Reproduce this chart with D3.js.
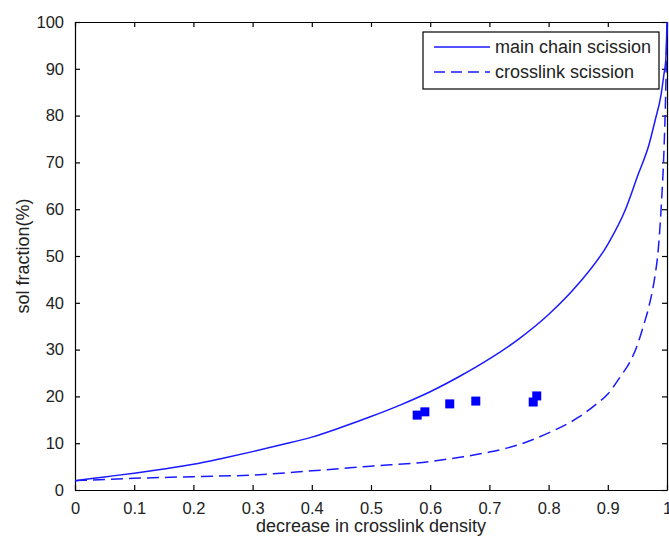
<!DOCTYPE html>
<html>
<head>
<meta charset="utf-8">
<script src="https://cdn.jsdelivr.net/npm/d3@7"></script>
<style>
  body { margin: 0; background: #fff; }
  svg { display: block; font-family: "Liberation Sans", Arial, sans-serif; }
</style>
</head>
<body>
<svg id="chart" width="669" height="537"></svg>
<script>
// curve: main chain scission
const mainX = [0, 0.05, 0.1, 0.15, 0.2, 0.25, 0.3, 0.35, 0.4, 0.45, 0.5, 0.55, 0.6, 0.65, 0.7, 0.75, 0.8, 0.85, 0.9, 0.93, 0.95, 0.97, 0.98, 0.99, 0.995, 0.998, 1.0]
const mainY = [2, 2.8, 3.6, 4.5, 5.5, 6.8, 8.2, 9.7, 11.3, 13.4, 15.7, 18.2, 21, 24.3, 28, 32.3, 37.5, 44, 52.5, 60, 67, 74, 79, 84.5, 89, 92, 100]

// curve: crosslink scission
const crossX = [0, 0.1, 0.2, 0.3, 0.4, 0.5, 0.6, 0.65, 0.7, 0.75, 0.8, 0.85, 0.88, 0.9, 0.92, 0.94, 0.95, 0.96, 0.97, 0.98, 0.985, 0.99, 0.995, 0.998, 1.0]
const crossY = [2, 2.5, 2.85, 3.2, 4.1, 5.1, 6.1, 7, 8.1, 9.7, 12.2, 15.5, 18.3, 20.5, 24, 28, 31, 35, 39.5, 46, 51, 60, 73, 86, 100]

// measured points
const ptX = [0.578, 0.591, 0.633, 0.677, 0.774, 0.780]
const ptY = [16.0, 16.7, 18.4, 19.0, 18.8, 20.1]

const xTicks = [0, 0.1, 0.2, 0.3, 0.4, 0.5, 0.6, 0.7, 0.8, 0.9, 1]
const yTicks = [0, 10, 20, 30, 40, 50, 60, 70, 80, 90, 100]

const seriesNames = ['main chain scission', 'crosslink scission']

const pLeft = 75, pRight = 667, pTop = 22, pBottom = 490
const svg = d3.select('#chart')

const x = d3.scaleLinear().domain([0, 1]).range([pLeft, pRight])
const y = d3.scaleLinear().domain([0, 100]).range([pBottom, pTop])

const fmtX = d => d === 0 || d === 1 ? String(d) : d.toFixed(1)

// axes (ticks pointing inward, box all round)
svg.append('g')
  .attr('transform', `translate(0,${pBottom})`)
  .call(d3.axisBottom(x).tickValues(xTicks).tickFormat(fmtX).tickSizeInner(-5).tickSizeOuter(0).tickPadding(12))
svg.append('g')
  .attr('transform', `translate(0,${pTop})`)
  .call(d3.axisTop(x).tickValues(xTicks).tickFormat('').tickSizeInner(-5).tickSizeOuter(0))
svg.append('g')
  .attr('transform', `translate(${pLeft},0)`)
  .call(d3.axisLeft(y).tickValues(yTicks).tickSizeInner(-5).tickSizeOuter(0).tickPadding(11))
svg.append('g')
  .attr('transform', `translate(${pRight},0)`)
  .call(d3.axisRight(y).tickValues(yTicks).tickFormat('').tickSizeInner(-5).tickSizeOuter(0))

svg.selectAll('.domain').attr('stroke', '#000').attr('stroke-width', 1.2)
svg.selectAll('.tick line').attr('stroke', '#000').attr('stroke-width', 1.2)
svg.selectAll('.tick text')
  .attr('fill', '#222')
  .style('font-size', '16.5px')
  .style('font-family', '"Liberation Sans", Arial, sans-serif')

// curves
const line = d3.line().x(d => x(d[0])).y(d => y(d[1])).curve(d3.curveMonotoneX)

svg.append('path')
  .datum(d3.zip(mainX, mainY))
  .attr('d', line)
  .attr('fill', 'none')
  .attr('stroke', '#1a1aff')
  .attr('stroke-width', 1.5)

svg.append('path')
  .datum(d3.zip(crossX, crossY))
  .attr('d', line)
  .attr('fill', 'none')
  .attr('stroke', '#1a1aff')
  .attr('stroke-width', 1.5)
  .attr('stroke-dasharray', '12,6')

// square markers
const sz = 9
svg.append('g')
  .selectAll('rect')
  .data(d3.zip(ptX, ptY))
  .enter()
  .append('rect')
  .attr('x', d => x(d[0]) - sz / 2)
  .attr('y', d => y(d[1]) - sz / 2)
  .attr('width', sz)
  .attr('height', sz)
  .attr('fill', '#0000ff')

// axis labels
svg.append('text')
  .attr('x', (pLeft + pRight) / 2)
  .attr('y', 532)
  .attr('text-anchor', 'middle')
  .style('font-size', '18px')
  .attr('fill', '#222')
  .text('decrease in crosslink density')

svg.append('text')
  .attr('transform', `translate(29,${(pTop + pBottom) / 2}) rotate(-90)`)
  .attr('text-anchor', 'middle')
  .style('font-size', '18px')
  .attr('fill', '#222')
  .text('sol fraction(%)')

// legend
const lg = svg.append('g')
lg.append('rect')
  .attr('x', 423).attr('y', 32)
  .attr('width', 236).attr('height', 57)
  .attr('fill', '#fff')
  .attr('stroke', '#000')
  .attr('stroke-width', 1.2)

lg.selectAll('g.item')
  .data(seriesNames)
  .enter()
  .append('g')
  .attr('class', 'item')
  .each(function (d, i) {
    const row = d3.select(this)
    const cy = 47 + i * 25
    row.append('line')
      .attr('x1', 434).attr('x2', 490)
      .attr('y1', cy).attr('y2', cy)
      .attr('stroke', '#1a1aff')
      .attr('stroke-width', 1.5)
      .attr('stroke-dasharray', i === 1 ? '11,6' : null)
    row.append('text')
      .attr('x', 495)
      .attr('y', cy + 6)
      .style('font-size', '18px')
      .attr('fill', '#222')
      .text(d)
  })
</script>
</body>
</html>
